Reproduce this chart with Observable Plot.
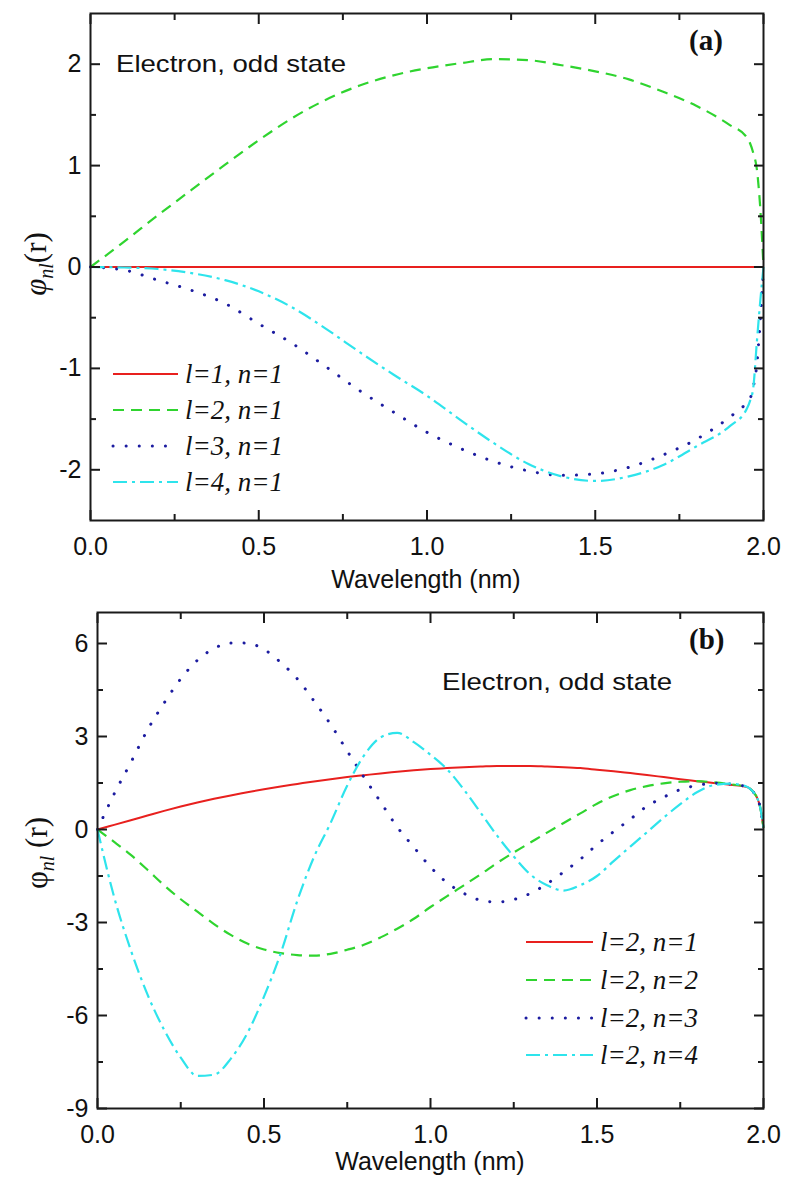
<!DOCTYPE html>
<html><head><meta charset="utf-8">
<script src="https://cdn.jsdelivr.net/npm/d3@7"></script>
<script src="https://cdn.jsdelivr.net/npm/@observablehq/plot@0.6"></script>
<style>
body{margin:0;background:#fff}
#chart{width:788px;}
#chart svg{display:block}
</style>
</head><body><div id="chart"></div>
<script>
// ---------- Data: panel (a) ----------
const xA = [0,0.1,0.2,0.3,0.4,0.5,0.6,0.7,0.8,0.9,1.0,1.1,1.2,1.3,1.4,1.5,1.6,1.7,1.8,1.9,1.95,1.96,1.97,1.98,1.99,2.0];
const aL1 = [0,0,0,0,0,0,0,0,0,0,0,0,0,0,0,0,0,0,0,0,0,0,0,0,0,0];
const aL2 = [0,0.25,0.51,0.76,1.01,1.25,1.47,1.65,1.79,1.89,1.96,2.01,2.05,2.04,1.99,1.93,1.85,1.73,1.59,1.40,1.28,1.22,1.12,0.97,0.6,0];
const aL3 = [0,-0.03,-0.13,-0.23,-0.36,-0.56,-0.755,-0.985,-1.22,-1.43,-1.63,-1.79,-1.92,-2.01,-2.055,-2.04,-1.975,-1.855,-1.70,-1.48,-1.34,-1.30,-1.18,-0.97,-0.55,0];
const aL4 = [0,-0.005,-0.02,-0.06,-0.13,-0.24,-0.40,-0.61,-0.84,-1.06,-1.27,-1.51,-1.74,-1.94,-2.065,-2.11,-2.065,-1.955,-1.77,-1.57,-1.40,-1.32,-1.18,-0.75,-0.35,0];
const labelsA = ["l=1, n=1","l=2, n=1","l=3, n=1","l=4, n=1"];

// ---------- Data: panel (b) ----------
const xB = [0,0.05,0.1,0.15,0.2,0.25,0.3,0.35,0.4,0.45,0.5,0.55,0.6,0.65,0.7,0.75,0.8,0.85,0.9,0.95,1.0,1.05,1.1,1.15,1.2,1.25,1.3,1.35,1.4,1.45,1.5,1.55,1.6,1.65,1.7,1.75,1.8,1.85,1.9,1.95,1.96,1.97,1.98,1.99,2.0];
const bN1 = [0,0.15,0.3,0.45,0.6,0.74,0.87,0.99,1.1,1.2,1.3,1.39,1.47,1.55,1.62,1.69,1.75,1.81,1.86,1.91,1.95,1.98,2.01,2.03,2.05,2.05,2.05,2.03,2.01,1.98,1.93,1.88,1.82,1.76,1.69,1.62,1.56,1.5,1.44,1.37,1.31,1.2,1.04,0.72,0.05];
const bN2 = [0,-0.4,-0.82,-1.3,-1.8,-2.25,-2.65,-3.05,-3.4,-3.68,-3.87,-3.99,-4.05,-4.07,-4.01,-3.88,-3.72,-3.48,-3.2,-2.88,-2.5,-2.15,-1.8,-1.45,-1.08,-0.74,-0.42,-0.1,0.21,0.52,0.83,1.08,1.27,1.4,1.49,1.54,1.56,1.52,1.46,1.37,1.31,1.2,1.04,0.72,0.05];
const bN3 = [0,1.15,2.16,3.21,4.08,4.86,5.46,5.84,6.02,6.01,5.81,5.39,4.86,4.15,3.39,2.53,1.69,0.89,0.08,-0.57,-1.21,-1.72,-2.06,-2.28,-2.34,-2.26,-2.06,-1.75,-1.37,-0.96,-0.49,-0.07,0.33,0.75,1.04,1.29,1.42,1.49,1.47,1.37,1.31,1.2,1.04,0.72,0.05];
const bN4 = [0,-2.18,-3.89,-5.32,-6.46,-7.36,-7.95,-7.91,-7.4,-6.57,-5.39,-4.0,-2.3,-0.89,0.21,1.42,2.38,2.97,3.12,2.82,2.41,1.94,1.29,0.55,-0.2,-0.87,-1.45,-1.8,-1.97,-1.8,-1.5,-1.02,-0.55,-0.09,0.38,0.82,1.2,1.43,1.48,1.38,1.31,1.2,1.04,0.72,0.05];
const labelsB = ["l=2, n=1","l=2, n=2","l=2, n=3","l=2, n=4"];

// ---------- Ticks ----------
const xMajor = [0,0.5,1,1.5,2];
const xMinor = [0.25,0.75,1.25,1.75];
const yMajorA = [-2,-1,0,1,2];
const yMinorA = [-1.5,-0.5,0.5,1.5];
const yMajorB = [-9,-6,-3,0,3,6];
const yMinorB = [-7.5,-4.5,-1.5,1.5,4.5];

// ---------- Styles ----------
const styles = [
  {stroke:"#e8201e", strokeWidth:2, dash:null, cap:"butt"},
  {stroke:"#2fd42f", strokeWidth:2.2, dash:"11,7", cap:"butt"},
  {stroke:"#1c1ca0", strokeWidth:3, dash:"0.1,13", cap:"round"},
  {stroke:"#2ee4ec", strokeWidth:2.2, dash:"14,5,3,5", cap:"butt"}
];
const FRAME = "#1a1a1a";

function rows(xs, ys){ return xs.map((x,i)=>({x, y: ys[i]})); }

function axes(yMajor, yMinor){
  const out = [
    Plot.axisX({ticks:xMajor, anchor:"bottom", tickSize:0, tickPadding:17, tickFormat:d=>d.toFixed(1), label:null}),
    Plot.axisY({ticks:yMajor, anchor:"left", tickSize:0, tickPadding:9, tickFormat:d=>String(d), label:null})
  ];
  for (const anchor of ["bottom","top"]) {
    out.push(Plot.axisX({ticks:xMajor, anchor, tickSize:-10, fill:"none", label:null, stroke:FRAME, strokeWidth:2}));
    out.push(Plot.axisX({ticks:xMinor, anchor, tickSize:-6, fill:"none", label:null, stroke:FRAME, strokeWidth:2}));
  }
  for (const anchor of ["left","right"]) {
    out.push(Plot.axisY({ticks:yMajor, anchor, tickSize:-10, fill:"none", label:null, stroke:FRAME, strokeWidth:2}));
    out.push(Plot.axisY({ticks:yMinor, anchor, tickSize:-6, fill:"none", label:null, stroke:FRAME, strokeWidth:2}));
  }
  return out;
}

function lines(xs, series){
  return series.map((ys,i)=>Plot.line(rows(xs,ys), {
    x:"x", y:"y", curve:"monotone-x",
    stroke:styles[i].stroke, strokeWidth:styles[i].strokeWidth,
    strokeDasharray:styles[i].dash, strokeLinecap:styles[i].cap
  }));
}

function addText(svg, o){
  const t = d3.select(svg).append("text")
    .attr("x", o.x).attr("y", o.y)
    .attr("font-family", o.family || "'Liberation Sans', Arial, sans-serif")
    .attr("font-size", o.size)
    .attr("fill", "#111")
    .attr("text-anchor", o.anchor || "start")
    .text(o.text);
  if (o.style) t.attr("font-style", o.style);
  if (o.weight) t.attr("font-weight", o.weight);
  if (o.length) t.attr("textLength", o.length).attr("lengthAdjust","spacingAndGlyphs");
  return t;
}

function addYLabel(svg, cx, cy, phiItalic){
  const t = d3.select(svg).append("text")
    .attr("transform", `translate(${cx},${cy}) rotate(-90)`)
    .attr("text-anchor","middle")
    .attr("font-family","'Liberation Serif', 'Times New Roman', serif")
    .attr("font-size", 31).attr("fill","#111");
  t.append("tspan").attr("font-style", phiItalic ? "italic" : "normal").text("φ");
  t.append("tspan").attr("font-style","italic").attr("font-size",20).attr("dy",7).text("nl");
  t.append("tspan").attr("dy",-7).text(phiItalic ? "(r)" : " (r)");
}

function addLegend(svg, labels, x1, x2, tx, ys, size){
  const g = d3.select(svg).append("g");
  labels.forEach((lab,i)=>{
    const s = styles[i];
    g.append("line").attr("x1",x1).attr("x2",x2).attr("y1",ys[i]).attr("y2",ys[i])
      .attr("stroke",s.stroke).attr("stroke-width",s.strokeWidth)
      .attr("stroke-dasharray", s.dash).attr("stroke-linecap", s.cap);
    g.append("text").attr("x",tx).attr("y",ys[i]+9)
      .attr("text-anchor","start")
      .attr("font-family","'Liberation Serif', 'Times New Roman', serif")
      .attr("font-style","italic").attr("font-size",size).attr("fill","#111")
      .text(lab);
  });
}

const baseStyle = {fontFamily:"'Liberation Sans', Arial, sans-serif", fontSize:"25px", color:"#111", background:"white", overflow:"visible"};

// ---------- Panel (a) ----------
const svgA = Plot.plot({
  width:788, height:596,
  marginTop:13, marginRight:25, marginBottom:76, marginLeft:90,
  style: baseStyle,
  x:{domain:[0,2]},
  y:{domain:[-2.5,2.5]},
  marks:[
    ...lines(xA, [aL1,aL2,aL3,aL4]),
    ...axes(yMajorA, yMinorA),
    Plot.frame({stroke:FRAME, strokeWidth:2})
  ]
});
addText(svgA, {x:116, y:72, text:"Electron, odd state", size:24, length:230});
addText(svgA, {x:689, y:50, text:"(a)", size:29, weight:"bold", family:"'Liberation Serif', 'Times New Roman', serif"});
addText(svgA, {x:426, y:588, text:"Wavelength (nm)", size:25, anchor:"middle"});
addYLabel(svgA, 46, 264, true);
addLegend(svgA, labelsA, 113, 178, 185, [374,410,446,482], 27);

// ---------- Panel (b) ----------
const svgB = Plot.plot({
  width:788, height:592,
  marginTop:16, marginRight:25, marginBottom:80, marginLeft:97,
  style: baseStyle,
  x:{domain:[0,2]},
  y:{domain:[-9,7]},
  marks:[
    ...lines(xB, [bN1,bN2,bN3,bN4]),
    ...axes(yMajorB, yMinorB),
    Plot.frame({stroke:FRAME, strokeWidth:2})
  ]
});
addText(svgB, {x:442, y:94, text:"Electron, odd state", size:24, length:230});
addText(svgB, {x:689, y:53, text:"(b)", size:29, weight:"bold", family:"'Liberation Serif', 'Times New Roman', serif"});
addText(svgB, {x:430, y:574, text:"Wavelength (nm)", size:25, anchor:"middle"});
addYLabel(svgB, 47, 257, false);
addLegend(svgB, labelsB, 526, 593, 600, [346,384,422,459], 27);

const chart = document.getElementById("chart");
chart.appendChild(svgA);
chart.appendChild(svgB);
</script></body></html>
